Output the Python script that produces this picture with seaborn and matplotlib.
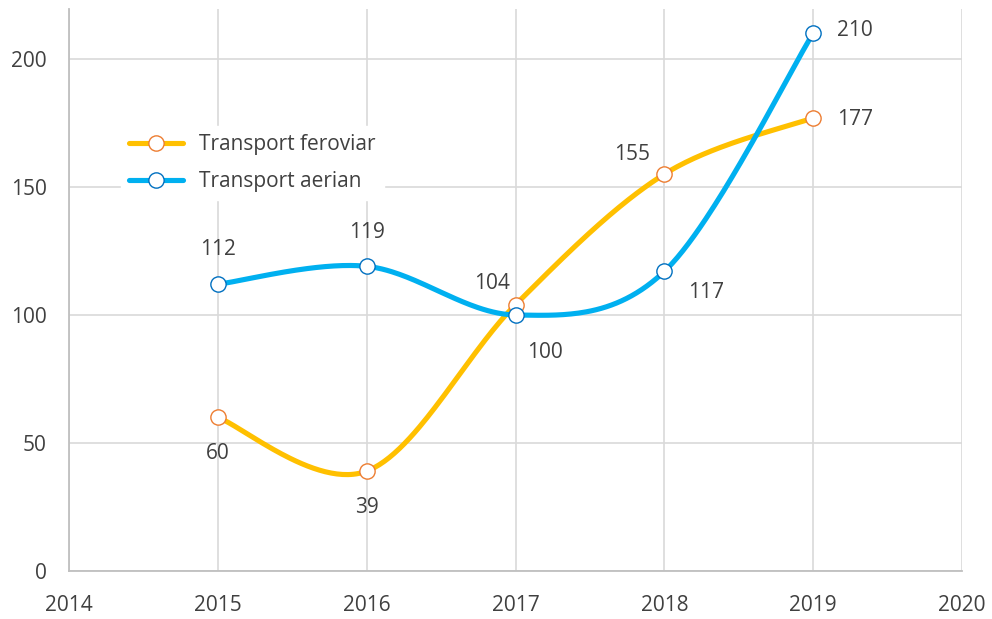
import numpy as np
import pandas as pd
import matplotlib
matplotlib.use("Agg")
import matplotlib.pyplot as plt
import seaborn as sns
from matplotlib.lines import Line2D

years = [2015, 2016, 2017, 2018, 2019]
feroviar = [60, 39, 104, 155, 177]
aerian = [112, 119, 100, 117, 210]
series_names = ["Transport feroviar", "Transport aerian"]
x_ticks = [2014, 2015, 2016, 2017, 2018, 2019, 2020]
y_ticks = [0, 50, 100, 150, 200]

line_colors = ["#FFC000", "#00B0F0"]
edge_colors = ["#ED7D31", "#0070C0"]
txt = "#404040"

sns.set_theme(style="white")
plt.rcParams["font.family"] = ["Open Sans", "DejaVu Sans"]


def smooth(xs, ys, n=60):
    """Excel-like smoothing: Catmull-Rom Bezier through the points."""
    P = np.column_stack([xs, ys]).astype(float)
    pts = []
    m = len(P)
    for i in range(m - 1):
        p0 = P[i - 1] if i > 0 else P[i]
        p1 = P[i]
        p2 = P[i + 1]
        p3 = P[i + 2] if i + 2 < m else P[i + 1]
        c1 = p1 + (p2 - p0) / 6.0
        c2 = p2 - (p3 - p1) / 6.0
        t = np.linspace(0, 1, n)[:, None]
        seg = ((1 - t) ** 3) * p1 + 3 * ((1 - t) ** 2) * t * c1 + 3 * (1 - t) * t ** 2 * c2 + t ** 3 * p2
        if i > 0:
            seg = seg[1:]
        pts.append(seg)
    pts = np.vstack(pts)
    return pts[:, 0], pts[:, 1]


fig = plt.figure(figsize=(9.92, 6.19), dpi=100)
ax = fig.add_axes([69 / 992, 1 - 571 / 619, (962 - 69) / 992, (571 - 9) / 619])

frames = []
for name, vals in zip(series_names, [feroviar, aerian]):
    sx, sy = smooth(years, vals)
    frames.append(pd.DataFrame({"x": sx, "y": sy, "serie": name}))
curve = pd.concat(frames, ignore_index=True)

sns.lineplot(data=curve, x="x", y="y", hue="serie", palette=dict(zip(series_names, line_colors)),
             linewidth=3.7, sort=False, estimator=None, ax=ax, legend=False, zorder=3)

for name, vals, ec in zip(series_names, [feroviar, aerian], edge_colors):
    ax.plot(years, vals, linestyle="none", marker="o", markersize=11, markerfacecolor="white",
            markeredgecolor=ec, markeredgewidth=1.0, zorder=4)

FS = 15
# data labels (offsets in points)
fer_off = [(0, -26), (0, -26), (-17, 15), (-23, 14), (30, -1)]
aer_off = [(0, 25), (0, 24), (21, -27), (30, -15), (30, 2)]
for vals, offs in [(feroviar, fer_off), (aerian, aer_off)]:
    for xv, yv, (dx, dy) in zip(years, vals, offs):
        ax.annotate(str(yv), (xv, yv), xytext=(dx, dy), textcoords="offset points",
                    ha="center", va="center", fontsize=FS, color=txt, zorder=5)

ax.set_xlim(2014, 2020)
ax.set_ylim(0, 219.5)
ax.set_xticks(x_ticks)
ax.set_yticks(y_ticks)
ax.set_xticklabels([str(v) for v in x_ticks])
ax.grid(True, color="#D9D9D9", linewidth=1.2)
ax.set_axisbelow(True)
for s in ["top", "right"]:
    ax.spines[s].set_visible(False)
for s in ["left", "bottom"]:
    ax.spines[s].set_color("#BFBFBF")
    ax.spines[s].set_linewidth(1.3)
ax.tick_params(axis="both", length=0, labelsize=FS, labelcolor=txt)
ax.tick_params(axis="y", pad=16)
ax.tick_params(axis="x", pad=17)
ax.set_xlabel("")
ax.set_ylabel("")

handles = [Line2D([0], [0], color=lc, linewidth=3.7, marker="o", markersize=11,
                  markerfacecolor="white", markeredgecolor=ec, markeredgewidth=1.0)
           for lc, ec in zip(line_colors, edge_colors)]
leg = ax.legend(handles, series_names, loc="upper left", bbox_to_anchor=(0.058, 0.792),
                fontsize=FS, frameon=True, framealpha=1, edgecolor="white", facecolor="white",
                handlelength=2.6, handletextpad=0.75, labelspacing=0.75, borderpad=0.4,
                borderaxespad=0)
for t in leg.get_texts():
    t.set_color(txt)

fig.savefig("out.png", dpi=100)
